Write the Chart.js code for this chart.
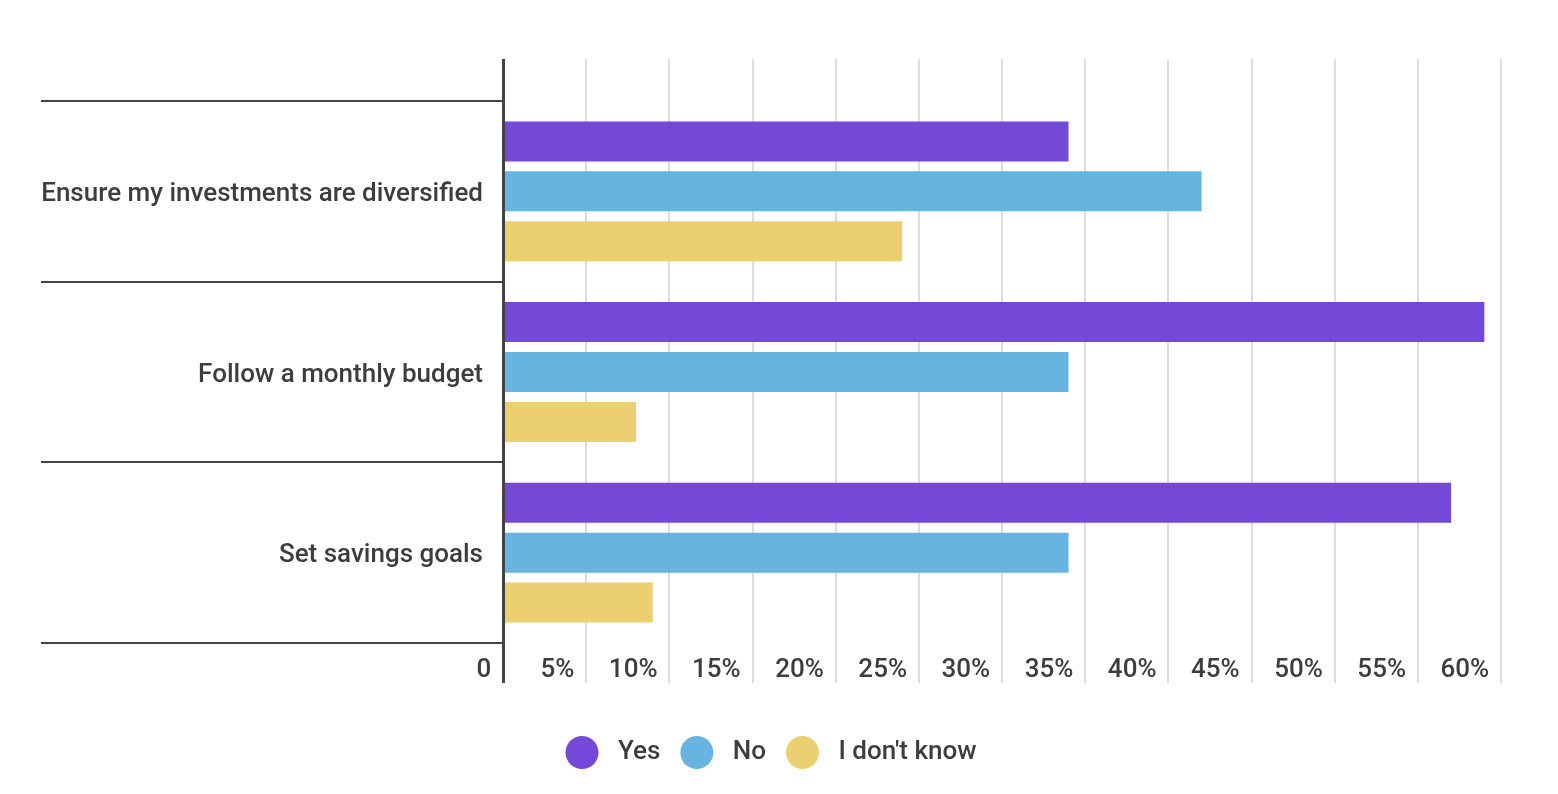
<!DOCTYPE html>
<html>
<head>
<meta charset="utf-8">
<script src="https://cdn.jsdelivr.net/npm/chart.js@4/dist/chart.umd.min.js"></script>
<style>
  html, body { margin: 0; padding: 0; background: #ffffff; }
  #wrap { width: 1558px; height: 794px; position: relative; }
</style>
</head>
<body>
<div id="wrap"><canvas id="c"></canvas></div>
<script>
const categories = ["Ensure my investments are diversified", "Follow a monthly budget", "Set savings goals"];
const seriesNames = ["Yes", "No", "I don't know"];
const yesValues = [34, 59, 57];
const noValues = [42, 34, 34];
const dontKnowValues = [24, 8, 9];
const tickValues = [0, 5, 10, 15, 20, 25, 30, 35, 40, 45, 50, 55, 60];
const tickLabels = ["0", "5%", "10%", "15%", "20%", "25%", "30%", "35%", "40%", "45%", "50%", "55%", "60%"];

const colors = ["#7549d8", "#67b4e1", "#ebcf70"];
const textColor = "#3d3d3d";
const axisColor = "#444444";
const gridColor = "#dddddd";
const fontFamily = "Roboto";
const textFont = { family: fontFamily, size: 26, weight: "500" };

const labelFor = (v) => {
  const i = tickValues.indexOf(v);
  return (i >= 0 ? tickLabels[i] : String(v)) + " \u2009";
};

new Chart(document.getElementById("c"), {
  type: "bar",
  data: {
    labels: categories,
    datasets: [
      { label: seriesNames[0], data: yesValues, backgroundColor: colors[0] },
      { label: seriesNames[1], data: noValues, backgroundColor: colors[1] },
      { label: seriesNames[2], data: dontKnowValues, backgroundColor: colors[2] }
    ].map(d => Object.assign(d, { borderWidth: 0, categoryPercentage: 0.829, barPercentage: 0.8, xAxisID: "x", yAxisID: "y" }))
  },
  options: {
    indexAxis: "y",
    responsive: true,
    maintainAspectRatio: false,
    animation: false,
    layout: { padding: { top: 59, left: 41, right: 57, bottom: 15 } },
    scales: {
      x: {
        type: "linear",
        position: "bottom",
        min: 0,
        max: 60,
        afterBuildTicks: (scale) => { scale.ticks = tickValues.map(v => ({ value: v })); },
        afterFit: (scale) => { scale.height = 73; },
        grid: {
          display: true,
          drawOnChartArea: true,
          drawTicks: true,
          tickLength: 40,
          color: (ctx) => (ctx.tick && ctx.tick.value === 0) ? axisColor : gridColor,
          lineWidth: (ctx) => (ctx.tick && ctx.tick.value === 0) ? 3 : 2
        },
        border: { display: false },
        ticks: {
          autoSkip: false,
          maxRotation: 0,
          minRotation: 0,
          align: "end",
          padding: -28,
          color: textColor,
          font: textFont,
          callback: (v) => labelFor(v)
        }
      },
      x2: {
        type: "linear",
        position: "top",
        min: 0,
        max: 60,
        afterBuildTicks: (scale) => { scale.ticks = tickValues.map(v => ({ value: v })); },
        afterFit: (scale) => { scale.height = 42; },
        grid: {
          display: true,
          drawOnChartArea: false,
          drawTicks: true,
          tickLength: 42,
          color: (ctx) => (ctx.tick && ctx.tick.value === 0) ? axisColor : gridColor,
          lineWidth: (ctx) => (ctx.tick && ctx.tick.value === 0) ? 3 : 2
        },
        border: { display: false },
        ticks: { display: false }
      },
      y: {
        type: "category",
        position: "left",
        afterFit: (scale) => { scale.width = 462; },
        grid: {
          display: true,
          offset: true,
          drawOnChartArea: false,
          drawTicks: true,
          tickLength: 462,
          color: axisColor,
          lineWidth: 2
        },
        border: { display: true, color: axisColor, width: 3, z: 1 },
        ticks: {
          padding: -442,
          color: textColor,
          font: { family: fontFamily, size: 26, weight: "500", lineHeight: "6px" },
          callback: (v, i) => ["", categories[i]]
        }
      }
    },
    plugins: {
      tooltip: { enabled: false },
      title: { display: false },
      legend: {
        display: true,
        position: "bottom",
        align: "center",
        labels: {
          boxWidth: 33,
          boxHeight: 33,
          padding: 20,
          color: textColor,
          font: textFont,
          useBorderRadius: true,
          borderRadius: 16.5,
          generateLabels: (chart) => Chart.defaults.plugins.legend.labels.generateLabels(chart)
            .map(l => Object.assign(l, { text: " " + l.text, borderRadius: 16.5, lineWidth: 0 }))
        }
      }
    }
  }
});
</script>
</body>
</html>
